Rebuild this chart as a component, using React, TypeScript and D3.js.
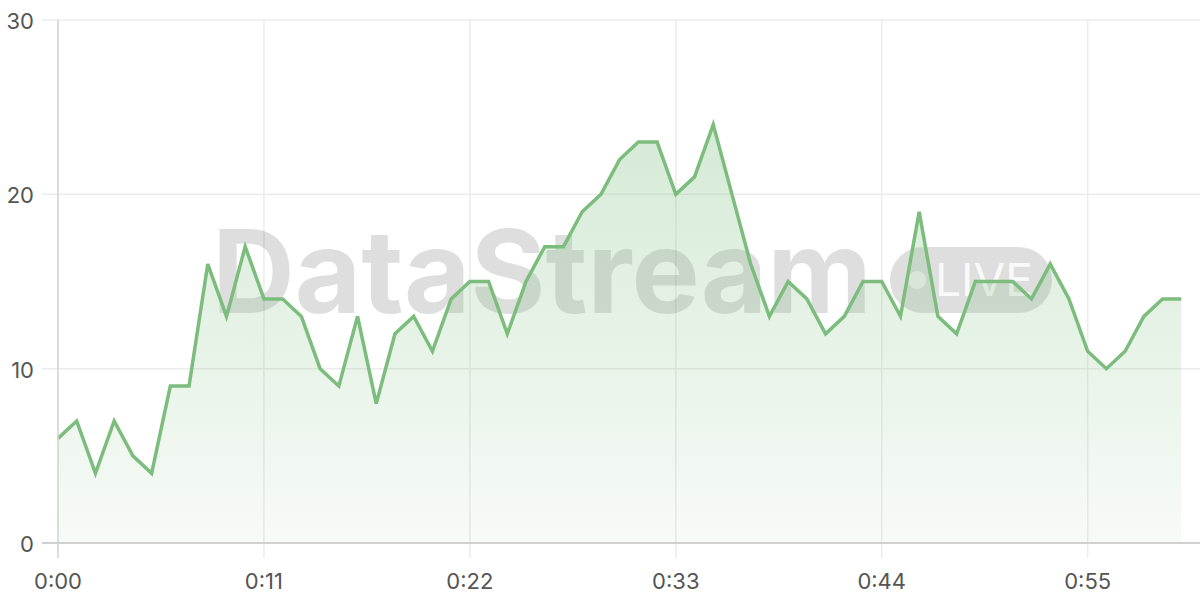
import * as d3 from "d3";

// one value per second
const seconds = d3.range(0, 61);
const values = [
  6, 7, 4, 7, 5, 4, 9, 9, 16, 13,
  17, 14, 14, 13, 10, 9, 13, 8, 12, 13,
  11, 14, 15, 15, 12, 15, 17, 17, 19, 20,
  22, 23, 23, 20, 21, 24, 20, 16, 13, 15,
  14, 12, 13, 15, 15, 13, 19, 13, 12, 15,
  15, 15, 14, 16, 14, 11, 10, 11, 13, 14,
  14,
];
const xTicks = [0, 11, 22, 33, 44, 55];
const yTicks = [0, 10, 20, 30];

const width = 1200;
const height = 600;
const margin = { top: 20, right: 0, bottom: 57, left: 58 };
const lineColor = "#7cbd7e";
const font = "Inter, 'Liberation Sans', sans-serif";

const fmt = (s: number) => `${Math.floor(s / 60)}:${String(s % 60).padStart(2, "0")}`;

export default function App() {
  const x = d3.scaleLinear().domain([0, 61]).range([margin.left, width - margin.right]);
  const y = d3.scaleLinear().domain([0, 30]).range([height - margin.bottom, margin.top]);

  const data = seconds.map((s, i) => ({ s, v: values[i] }));

  const line = d3
    .line<{ s: number; v: number }>()
    .x((d) => x(d.s))
    .y((d) => y(d.v));
  const area = d3
    .area<{ s: number; v: number }>()
    .x((d) => x(d.s))
    .y0(y(0))
    .y1((d) => y(d.v));

  const bottom = y(0);
  const top = y(30);

  return (
    <svg
      width={width}
      height={height}
      style={{ position: "absolute", left: 0, top: 0, background: "#fff" }}
    >
      <defs>
        <linearGradient id="fill" gradientUnits="userSpaceOnUse" x1={0} x2={0} y1={y(24)} y2={bottom}>
          <stop offset="0%" stopColor={lineColor} stopOpacity={0.32} />
          <stop offset="100%" stopColor={lineColor} stopOpacity={0.06} />
        </linearGradient>
      </defs>

      {/* grid */}
      {yTicks.map((t) => (
        <line key={"gy" + t} x1={margin.left - 16} x2={width} y1={y(t)} y2={y(t)} stroke="#ececec" strokeWidth={1.5} />
      ))}
      {xTicks.map((t) => (
        <line key={"gx" + t} x1={x(t)} x2={x(t)} y1={top} y2={bottom + 15} stroke="#ececec" strokeWidth={1.5} />
      ))}

      {/* watermark */}
      <g fill="#000" fillOpacity={0.13}>
        <text
          x={212}
          y={313}
          fontFamily={font}
          fontWeight={700}
          fontSize={115}
          textLength={660}
          lengthAdjust="spacingAndGlyphs"
        >
          DataStream
        </text>
        <rect x={890} y={247} width={162} height={66} rx={33} />
      </g>
      <circle cx={917} cy={280} r={9} fill="#fff" fillOpacity={0.6} />
      <text
        x={935}
        y={296}
        fill="#fff"
        fillOpacity={0.85}
        fontFamily={font}
        fontSize={45}
        textLength={98}
        lengthAdjust="spacingAndGlyphs"
      >
        LIVE
      </text>

      {/* area + line */}
      <path d={area(data) ?? ""} fill="url(#fill)" />
      <path d={line(data) ?? ""} fill="none" stroke={lineColor} strokeWidth={3.5} strokeLinejoin="miter" />

      {/* axes */}
      <line x1={margin.left} x2={margin.left} y1={top} y2={bottom + 15} stroke="#d4d4d4" strokeWidth={1.5} />
      <line x1={margin.left - 16} x2={width} y1={bottom} y2={bottom} stroke="#d0d0d0" strokeWidth={2} />

      {yTicks.map((t) => (
        <text
          key={"ty" + t}
          x={34}
          y={y(t) + 1}
          textAnchor="end"
          dominantBaseline="central"
          fontFamily={font}
          fontSize={22}
          fill="#555"
        >
          {t}
        </text>
      ))}
      {xTicks.map((t) => (
        <text
          key={"tx" + t}
          x={x(t)}
          y={581}
          textAnchor="middle"
          dominantBaseline="central"
          fontFamily={font}
          fontSize={22}
          fill="#555"
        >
          {fmt(t)}
        </text>
      ))}
    </svg>
  );
}
